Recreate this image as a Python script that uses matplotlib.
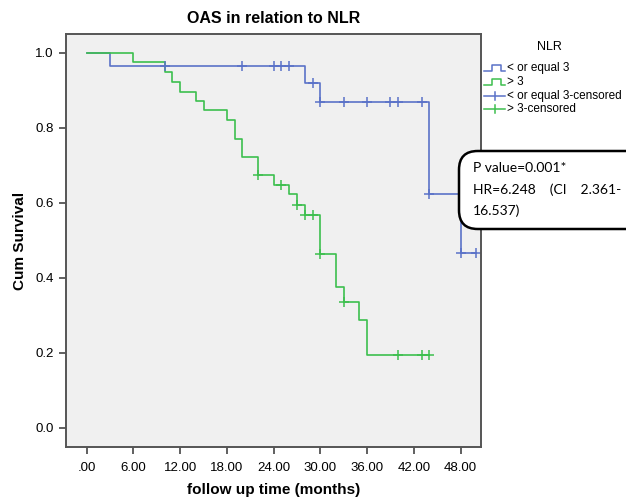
import matplotlib.pyplot as plt
import numpy as np
from matplotlib.patches import FancyBboxPatch
from matplotlib.lines import Line2D

# survival curves (Kaplan-Meier, steps post)
t_low = [0, 3, 28, 30, 44, 48, 50]
s_low = [1.0, 0.964, 0.920, 0.869, 0.622, 0.467, 0.467]
cens_low = [10, 20, 24, 25, 26, 29, 30, 33, 36, 39, 40, 43, 44, 48, 50]

t_high = [0, 6, 10, 11, 12, 14, 15, 18, 19, 20, 22, 24, 26, 27, 28, 30, 32, 33, 35, 36, 44]
s_high = [1.0, 0.975, 0.948, 0.922, 0.896, 0.872, 0.846, 0.821, 0.770, 0.723, 0.673,
          0.648, 0.622, 0.593, 0.567, 0.462, 0.376, 0.334, 0.286, 0.193, 0.193]
cens_high = [22, 25, 27, 28, 29, 30, 33, 40, 43, 44]

xticks = [0, 6, 12, 18, 24, 30, 36, 42, 48]
xlabels = ['.00', '6.00', '12.00', '18.00', '24.00', '30.00', '36.00', '42.00', '48.00']
yticks = [0.0, 0.2, 0.4, 0.6, 0.8, 1.0]

blue = '#5a72c8'
green = '#3dbf4e'

plt.rcParams['font.family'] = ['Liberation Sans', 'DejaVu Sans']

fig = plt.figure(figsize=(6.26, 4.99), dpi=100)
ax = fig.add_axes([0.105, 0.104, 0.663, 0.828])
ax.set_facecolor('#f0f0f0')


def surv_at(times, surv, pts):
    idx = np.searchsorted(times, pts, side='right') - 1
    return np.array(surv)[idx]


ax.step(t_low, s_low, where='post', color=blue, lw=1.2)
ax.step(t_high, s_high, where='post', color=green, lw=1.2)
ax.plot(cens_low, surv_at(t_low, s_low, cens_low), '+', color=blue, ms=7, mew=1.1)
ax.plot(cens_high, surv_at(t_high, s_high, cens_high), '+', color=green, ms=7, mew=1.1)

ax.set_xlim(-2.7, 50.6)
ax.set_ylim(-0.052, 1.05)
ax.set_xticks(xticks)
ax.set_xticklabels(xlabels)
ax.set_yticks(yticks)
ax.set_yticklabels(['%.1f' % v for v in yticks])
ax.tick_params(direction='out', length=5, width=1.2, color='#444444', labelsize=9.5)
ax.tick_params(axis='x', pad=6)
for sp in ax.spines.values():
    sp.set_color('#555555')
    sp.set_linewidth(1.4)

ax.set_title('OAS in relation to NLR', fontsize=11.5, fontweight='bold', pad=8)
ax.set_xlabel('follow up time (months)', fontsize=11, fontweight='bold', labelpad=6)
ax.set_ylabel('Cum Survival', fontsize=11, fontweight='bold', labelpad=6)

# legend drawn by hand (SPSS style)
W, H = 626, 499


def fx(px):
    return px / W


def fy(py):
    return 1 - py / H


fig.text(fx(549), fy(47), 'NLR', fontsize=9, ha='center', va='center')
entries = [('step', blue, '< or equal 3', 68),
           ('step', green, '> 3', 82),
           ('cens', blue, '< or equal 3-censored', 96),
           ('cens', green, '> 3-censored', 109)]
for kind, col, lab, py in entries:
    if kind == 'step':
        xs = [484, 492, 492, 501, 501, 505]
        ys = [py + 3, py + 3, py - 3, py - 3, py + 3, py + 3]
        fig.add_artist(Line2D([fx(x) for x in xs], [fy(y) for y in ys], color=col, lw=1.1))
    else:
        fig.add_artist(Line2D([fx(484), fx(505)], [fy(py), fy(py)], color=col, lw=1.1))
        fig.add_artist(Line2D([fx(494.5), fx(494.5)], [fy(py - 4), fy(py + 4)], color=col, lw=1.1))
    fig.text(fx(507), fy(py), lab, fontsize=8.5, ha='left', va='center')

# annotation box
box = FancyBboxPatch((fx(459), fy(229)), fx(200), fy(151) - fy(229),
                     boxstyle='round,pad=0,rounding_size=0.03',
                     transform=fig.transFigure, facecolor='white',
                     edgecolor='black', lw=1.8, mutation_aspect=1.25)
fig.add_artist(box)
fig.text(fx(473), fy(168), 'P value=0.001*', fontsize=10, family='Lato', va='center')
fig.text(fx(473), fy(190), 'HR=6.248    (CI    2.361-', fontsize=10, family='Lato', va='center')
fig.text(fx(473), fy(211), '16.537)', fontsize=10, family='Lato', va='center')

fig.savefig('out.png', dpi=100)
